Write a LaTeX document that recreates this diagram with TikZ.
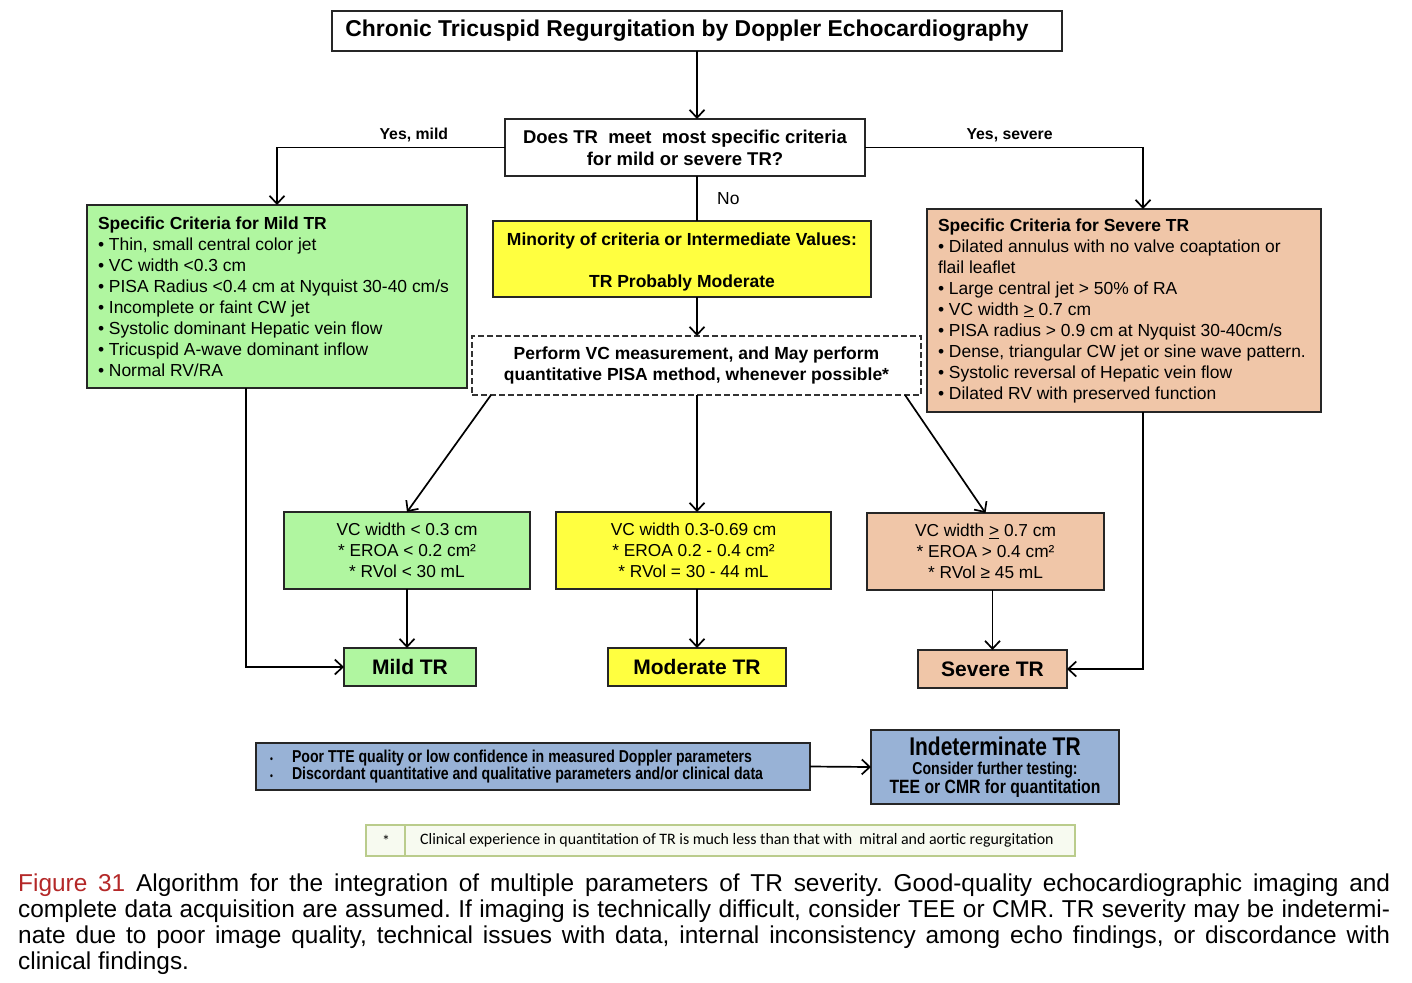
\documentclass[tikz,border=0pt]{standalone}
\usepackage{fontspec}
\setmainfont{Liberation Sans}
\newfontfamily\narrowfont{Liberation Sans}[FakeStretch=0.82]
\newfontfamily\notefont{Carlito}
\usetikzlibrary{arrows.meta}
\definecolor{mildgreen}{RGB}{176,246,160}
\definecolor{modyellow}{RGB}{255,255,64}
\definecolor{sevpeach}{RGB}{240,198,168}
\definecolor{indblue}{RGB}{152,178,214}
\definecolor{noteline}{RGB}{186,204,140}
\definecolor{notefill}{RGB}{247,250,240}
\definecolor{figred}{RGB}{180,40,40}
\tikzset{
	box/.style={draw=black!85, line width=1.3pt, inner sep=0pt, outer sep=0pt},
	boxtext/.style={font=\fontsize{17.45}{21}\selectfont},
	boldtext/.style={font=\bfseries\fontsize{17.5}{21}\selectfont},
	valtext/.style={font=\fontsize{17.3}{21}\selectfont},
	link/.style={line width=1.7pt, -{Straight Barb[length=8pt,width=15pt]}},
	plain/.style={line width=1.7pt},
	branch/.style={font=\bfseries\fontsize{15.8}{18}\selectfont},
	result/.style={box, minimum height=38pt, font=\bfseries\fontsize{21}{24}\selectfont},
}
\begin{document}
\begin{tikzpicture}[x=1pt,y=-1pt]
	\useasboundingbox (0,0) rectangle (1412,982);
	\fill[white] (0,0) rectangle (1412,982);

	\node[box, minimum width=730pt, minimum height=40pt, font=\bfseries\fontsize{22.9}{26}\selectfont] (title) at (697,31) {Chronic Tricuspid Regurgitation by Doppler Echocardiography\hspace*{20pt}};
	\node[box, minimum width=360pt, minimum height=57pt, align=center, font=\bfseries\fontsize{18.5}{22}\selectfont] (question) at (685,147.5) {Does TR\ \ meet\ \ most specific criteria\\for mild or severe TR?};

	\node[box, fill=mildgreen, minimum width=380pt, minimum height=183pt, text width=358pt, align=flush left, boxtext] (mild) at (277,296.5) {\textbf{Specific Criteria for Mild TR}\\
		• Thin, small central color jet\\
		• VC width <0.3 cm\\
		• PISA Radius <0.4 cm at Nyquist 30-40 cm/s\\
		• Incomplete or faint CW jet\\
		• Systolic dominant Hepatic vein flow\\
		• Tricuspid A-wave dominant inflow\\
		• Normal RV/RA};
	\node[box, fill=modyellow, minimum width=378pt, minimum height=76pt, align=center, boldtext] (minority) at (682,259) {\rule{0pt}{19pt}Minority of criteria or Intermediate Values:\\[21pt]TR Probably Moderate};
	\node[box, fill=sevpeach, minimum width=394pt, minimum height=203pt, text width=372pt, align=flush left, boxtext] (severe) at (1124,310.5) {\textbf{Specific Criteria for Severe TR}\\
		• Dilated annulus with no valve coaptation or\\
		flail leaflet\\
		• Large central jet > 50\% of RA\\
		• VC width \underline{>} 0.7 cm\\
		• PISA radius > 0.9 cm at Nyquist 30-40cm/s\\
		• Dense, triangular CW jet or sine wave pattern.\\
		• Systolic reversal of Hepatic vein flow\\
		• Dilated RV with preserved function};
	\node[box, draw=black!80, dash pattern=on 6pt off 3pt, line width=1.1pt, minimum width=449pt, minimum height=59pt, align=center, boldtext] (perform) at (696.5,365.5) {Perform VC measurement, and May perform\\quantitative PISA method, whenever possible*};

	\node[box, fill=mildgreen, minimum width=246pt, minimum height=77pt, align=center, valtext] (mildvc) at (407,550.5) {VC width < 0.3 cm\\* EROA < 0.2 cm²\\* RVol < 30 mL};
	\node[box, fill=modyellow, minimum width=275pt, minimum height=77pt, align=center, valtext] (modvc) at (693.5,550.5) {VC width 0.3-0.69 cm\\* EROA 0.2 - 0.4 cm²\\* RVol = 30 - 44 mL};
	\node[box, fill=sevpeach, minimum width=237pt, minimum height=77pt, align=center, valtext] (sevvc) at (985.5,551.5) {VC width \underline{>} 0.7 cm\\* EROA > 0.4 cm²\\* RVol ≥ 45 mL};

	\node[result, fill=mildgreen, minimum width=132pt] (mildtr) at (410,667) {Mild TR};
	\node[result, fill=modyellow, minimum width=178pt] (modtr) at (697,667) {Moderate TR};
	\node[result, fill=sevpeach, minimum width=149pt] (sevtr) at (992.5,669) {Severe TR};

	\node[box, fill=indblue, minimum width=554pt, minimum height=47pt, text width=526pt, align=flush left, font=\narrowfont\bfseries\fontsize{17.2}{16}\selectfont] (poor) at (533,766.5) {\makebox[22pt][l]{\fontsize{10}{10}\selectfont •}Poor TTE quality or low confidence in measured Doppler parameters\\\makebox[22pt][l]{\fontsize{10}{10}\selectfont •}Discordant quantitative and qualitative parameters and/or clinical data};
	\node[box, fill=indblue, minimum width=248pt, minimum height=74pt, align=center, font=\narrowfont\bfseries\fontsize{19.2}{19}\selectfont] (indet) at (995,767) {{\fontsize{25.6}{26}\selectfont Indeterminate TR}\\{\fontsize{17.2}{19}\selectfont Consider further testing:}\\TEE or CMR for quantitation};

	\node[draw=noteline, fill=notefill, line width=1.8pt, minimum width=709pt, minimum height=31pt, inner sep=0pt] (note) at (720.5,840.5) {};
	\draw[noteline, line width=1.8pt] ([xshift=40pt]note.north west) -- ([xshift=40pt]note.south west);
	\node[font=\notefont\fontsize{15.9}{18}\selectfont] (notestar) at (386,840.5) {*};
	\node[anchor=west, inner sep=0pt, font=\notefont\fontsize{15.9}{18}\selectfont] (notetext) at (420,840.5) {Clinical experience in quantitation of TR is much less than that with\ \ mitral and aortic regurgitation};

	\node[anchor=north west, inner sep=0pt, text width=1372pt, align=justify, font=\fontsize{24.4}{26}\selectfont] (caption) at (18,874) {\frenchspacing\hyphenpenalty=10000 {\color{figred}Figure 31} Algorithm for the integration of multiple parameters of TR severity. Good-quality echocardiographic imaging and\linebreak complete data acquisition are assumed. If imaging is technically difficult, consider TEE or CMR. TR severity may be indetermi-\linebreak nate due to poor image quality, technical issues with data, internal inconsistency among echo findings, or discordance with\linebreak clinical findings.};

	\draw[link] (title.south) -- (title.south |- question.north);
	\draw[link] (question.west) -| node[branch, pos=0.2, above=1pt] {Yes, mild} (mild.north);
	\draw[link] (question.east) -| node[branch, pos=0.26, above=1pt] {Yes, severe} ([xshift=19pt]severe.north);
	\draw[plain] (title.south |- question.south) -- node[right=16pt, boxtext] {No} (title.south |- minority.north);
	\draw[link] (title.south |- minority.south) -- (title.south |- perform.north);
	\draw[link] ([xshift=19pt]perform.south west) -- (mildvc.north);
	\draw[link] (title.south |- perform.south) -- (title.south |- modvc.north);
	\draw[link] ([xshift=-16pt]perform.south east) -- (sevvc.north);
	\draw[link] (mildvc.south) -- (mildvc.south |- mildtr.north);
	\draw[link] (modtr.north |- modvc.south) -- (modtr.north);
	\draw[link] (sevtr.north |- sevvc.south) -- (sevtr.north);
	\draw[link] ([xshift=-31pt]mild.south) |- (mildtr.west);
	\draw[link] ([xshift=19pt]severe.south) |- (sevtr.east);
	\draw[link] (poor.east) -- (indet.west);
\end{tikzpicture}
\end{document}
